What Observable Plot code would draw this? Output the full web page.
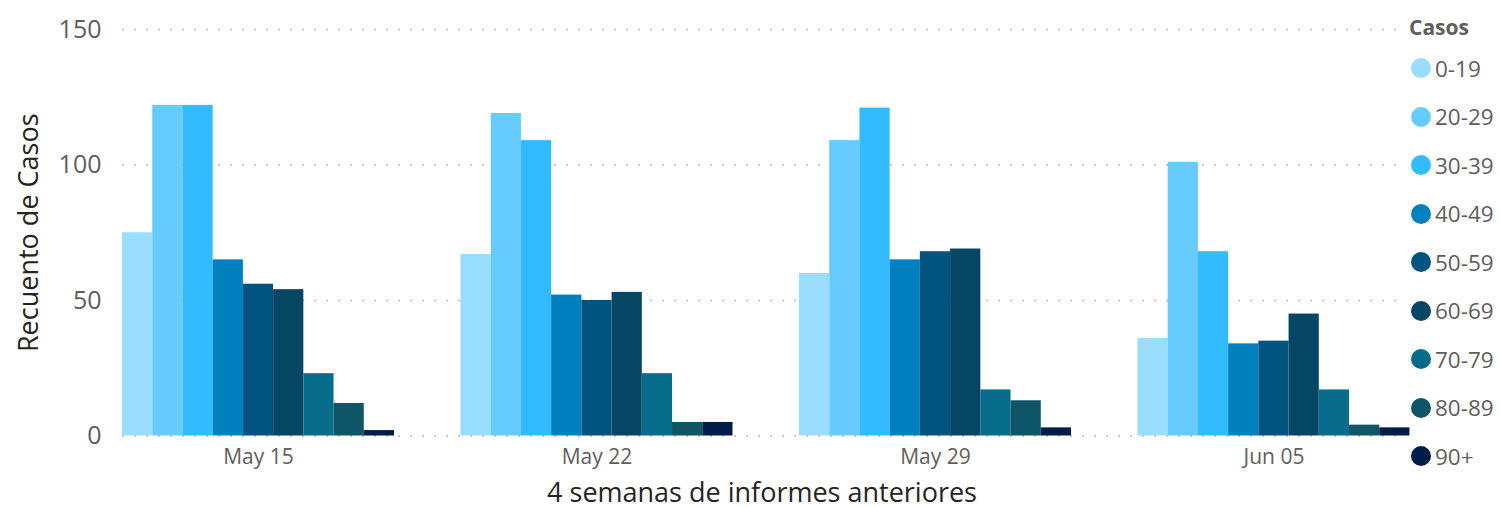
<!DOCTYPE html>
<html>
<head>
<meta charset="utf-8">
<script src="https://cdn.jsdelivr.net/npm/d3@7"></script>
<script src="https://cdn.jsdelivr.net/npm/@observablehq/plot@0.6"></script>
<style>
  html, body { margin: 0; padding: 0; background: #fff; }
  #wrap { position: relative; width: 1501px; height: 507px; font-family: "Open Sans", sans-serif; }
  #legend { position: absolute; left: 1409px; top: 0; color: #605E5C; }
  #legend .title { position: absolute; left: 0; top: 13px; font-size: 21px; font-weight: bold; white-space: nowrap; }
  #legend .item { position: absolute; left: 2px; display: flex; align-items: center; white-space: nowrap; font-size: 22.5px; height: 28px; }
  #legend .sw { width: 20px; height: 20px; border-radius: 50%; margin-right: 4px; }
</style>
</head>
<body>
<div id="wrap"><div id="chart"></div><div id="legend"></div></div>
<script>
const semanas = ["May 15", "May 22", "May 29", "Jun 05"];
const grupos = ["0-19", "20-29", "30-39", "40-49", "50-59", "60-69", "70-79", "80-89", "90+"];
const colores = ["#9ADEFF", "#66CCFF", "#33BBFF", "#0080BF", "#00547F", "#044664", "#076D8A", "#0D5567", "#001D4A"];
const may15 = [75, 122, 122, 65, 56, 54, 23, 12, 2];
const may22 = [67, 119, 109, 52, 50, 53, 23, 5, 5];
const may29 = [60, 109, 121, 65, 68, 69, 17, 13, 3];
const jun05 = [36, 101, 68, 34, 35, 45, 17, 4, 3];
const yTicks = [0, 50, 100, 150];

// layout of grouped bars on a linear x scale: one unit per bar, gap between weeks
const groupStep = 11.2;
const series = [may15, may22, may29, jun05];
const data = [];
semanas.forEach((s, i) => grupos.forEach((g, j) => data.push({
  semana: s, grupo: g, casos: series[i][j],
  x1: i * groupStep + j, x2: i * groupStep + j + 1
})));
const centers = semanas.map((s, i) => i * groupStep + grupos.length / 2);

const chart = Plot.plot({
  width: 1501,
  height: 507,
  marginTop: 29,
  marginBottom: 71.5,
  marginLeft: 122,
  marginRight: 100,
  style: {fontFamily: "Open Sans, sans-serif", background: "transparent", overflow: "visible"},
  x: {domain: [0, 42.32]},
  y: {domain: [0, 150]},
  color: {domain: grupos, range: colores},
  marks: [
    Plot.ruleY(yTicks, {stroke: "#c8c8c8", strokeWidth: 2, strokeDasharray: "2 10"}),
    Plot.rectY(data, {x1: "x1", x2: "x2", y: "casos", fill: "grupo", inset: 0}),
    Plot.axisY({ticks: yTicks, tickSize: 0, tickPadding: 21, fontSize: 25, color: "#605E5C",
      label: "Recuento de Casos", labelAnchor: "center", labelArrow: "none", labelOffset: 104}),
    Plot.axisX({ticks: centers, tickFormat: (d, i) => semanas[i], tickSize: 0, tickPadding: 13, fontSize: 21, color: "#605E5C",
      label: "4 semanas de informes anteriores", labelAnchor: "center", labelArrow: "none", labelOffset: 66})
  ]
});
document.getElementById("chart").appendChild(chart);

chart.querySelectorAll("[aria-label='y-axis label'] text, [aria-label='x-axis label'] text, [aria-label='y-axis label'], [aria-label='x-axis label']").forEach(t => {
  t.setAttribute("fill", "#252423");
  t.style.fontSize = "27px";
});

const legend = document.getElementById("legend");
const title = document.createElement("div");
title.className = "title";
title.textContent = "Casos";
legend.appendChild(title);
grupos.forEach((g, i) => {
  const it = document.createElement("div");
  it.className = "item";
  it.style.top = (54 + i * 48.5) + "px";
  const sw = document.createElement("span");
  sw.className = "sw";
  sw.style.background = colores[i];
  const tx = document.createElement("span");
  tx.textContent = g;
  it.appendChild(sw); it.appendChild(tx);
  legend.appendChild(it);
});
</script>
</body>
</html>
